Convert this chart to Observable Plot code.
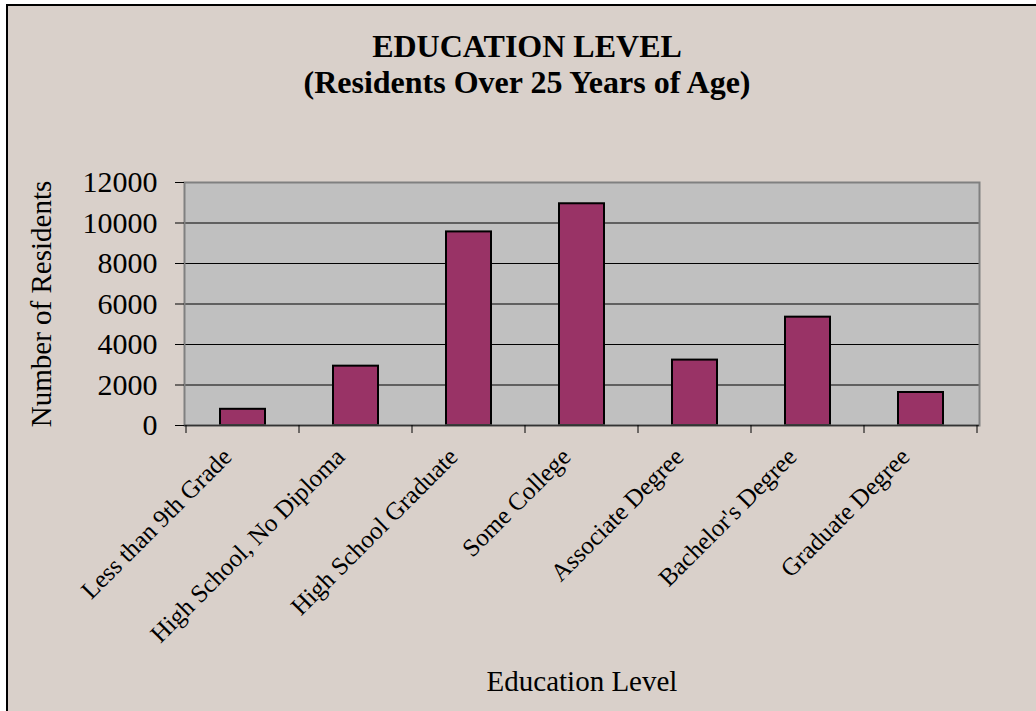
<!DOCTYPE html>
<html>
<head>
<meta charset="utf-8">
<script src="https://cdn.jsdelivr.net/npm/d3@7"></script>
<script src="https://cdn.jsdelivr.net/npm/@observablehq/plot@0.6"></script>
<style>
  html, body { margin: 0; padding: 0; background: #ffffff; }
  #wrap { position: relative; width: 1036px; height: 711px; overflow: hidden; background: #ffffff; }
  #panel { position: absolute; left: 6px; top: 4px; width: 1100px; height: 800px;
           background: #D9D0CA; border: 2px solid #000; box-sizing: border-box; }
  #chart { position: absolute; left: 0; top: 0; }
  .title { position: absolute; left: 0; width: 1054px; text-align: center;
           font-family: "Liberation Serif", "Times New Roman", serif; font-weight: bold;
           font-size: 32px; line-height: 32px; color: #000; white-space: nowrap; }
</style>
</head>
<body>
<div id="wrap">
  <div id="panel"></div>
  <div id="chart"></div>
  <div class="title" style="top:30px">EDUCATION LEVEL</div>
  <div class="title" style="top:66px">(Residents Over 25 Years of Age)</div>
</div>
<script>
const categories = [
  "Less than 9th Grade",
  "High School, No Diploma",
  "High School Graduate",
  "Some College",
  "Associate Degree",
  "Bachelor's Degree",
  "Graduate Degree"
];
const residents = [800, 2930, 9560, 10950, 3230, 5350, 1630];
const yTicks = [0, 2000, 4000, 6000, 8000, 10000, 12000];
const yTitle = "Number of Residents";
const xTitle = "Education Level";

const data = categories.map((c, i) => ({category: c, residents: residents[i]}));

// ticks at band boundaries, drawn from the x scale
function boundaryTicks(len) {
  return (index, scales, values, dims) => {
    const sx = scales.x;
    const bw = sx.bandwidth ? sx.bandwidth() : 0;
    const centers = categories.map(c => sx(c) + bw / 2);
    const step = centers.length > 1 ? centers[1] - centers[0] : bw;
    const xs = centers.map(c => c - step / 2).concat([centers[centers.length - 1] + step / 2]);
    const y0 = dims.height - dims.marginBottom;
    const g = d3.create("svg:g");
    g.selectAll("line").data(xs).join("line")
      .attr("x1", d => d).attr("x2", d => d)
      .attr("y1", y0).attr("y2", y0 + len)
      .attr("stroke", "#000").attr("stroke-width", 1);
    return g.node();
  };
}

const chart = Plot.plot({
  width: 1036,
  height: 711,
  marginLeft: 184,
  marginRight: 57,
  marginTop: 182,
  marginBottom: 286,
  style: {background: "transparent", fontFamily: "'Liberation Serif', 'Times New Roman', serif", fontSize: "29px", color: "#000"},
  x: {domain: categories, paddingInner: 0.6, paddingOuter: 0.3, axis: null},
  y: {domain: [0, 12000], axis: null},
  marks: [
    Plot.frame({fill: "#C0C0C0", stroke: null}),
    Plot.ruleY(yTicks.filter(d => d > 0 && d < 12000), {stroke: "#000", strokeWidth: 1}),
    Plot.barY(data, {x: "category", y: "residents", fill: "#993366", stroke: "#000", strokeWidth: 2}),
    Plot.frame({stroke: "#808080", strokeWidth: 2}),
    Plot.ruleY([0], {stroke: "#333", strokeWidth: 1.5}),
    Plot.axisY({ticks: yTicks, tickSize: 9, tickPadding: 18, tickFormat: d => String(d),
                fontSize: 30, stroke: "#000", label: null}),
    boundaryTicks(8),
    Plot.text(data, {x: "category", y: 0, text: "category", rotate: -45, textAnchor: "end",
                     lineAnchor: "bottom", dx: -10, dy: 33, fontSize: 25, fill: "#000"}),
    Plot.text([yTitle], {frameAnchor: "left", text: d => d, rotate: -90, textAnchor: "middle",
                         lineAnchor: "bottom", dx: -134, fontSize: 29, fill: "#000"}),
    Plot.text([xTitle], {frameAnchor: "bottom", text: d => d, textAnchor: "middle",
                         lineAnchor: "bottom", dy: 265, fontSize: 29, fill: "#000"})
  ]
});
document.getElementById("chart").appendChild(chart);
</script>
</body>
</html>
